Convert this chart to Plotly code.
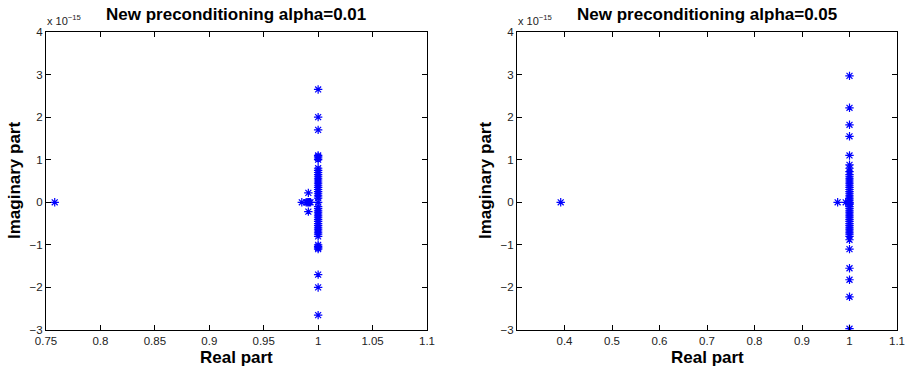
import plotly.graph_objects as go

SCALE = 1e-15

# Left panel: alpha = 0.01  (imaginary parts in units of 1e-15)
left_real = [0.758, 0.985, 0.989, 0.990, 0.991, 0.992, 0.993, 0.991, 0.991] + [1.0] * 45
left_imag = [0.0, 0.0, 0.0, 0.0, 0.0, 0.0, 0.0, 0.22, -0.22] + [
    2.65, 2.0, 1.7, 1.1, 1.07, 1.04, 1.0, 0.8, 0.75, 0.7, 0.65, 0.6, 0.55, 0.5,
    0.45, 0.4, 0.35, 0.3, 0.25, 0.2, 0.15, 0.1, 0.0, -0.1, -0.15, -0.2, -0.25,
    -0.3, -0.35, -0.4, -0.45, -0.5, -0.55, -0.6, -0.65, -0.7, -0.75, -0.8,
    -1.0, -1.04, -1.07, -1.1, -1.7, -2.0, -2.65]

# Right panel: alpha = 0.05
right_real = [0.392, 0.975, 0.992] + [1.0] * 45
right_imag = [0.0, 0.0, 0.0] + [
    2.97, 2.22, 1.82, 1.55, 1.1, 0.88, 0.8, 0.72, 0.65, 0.6, 0.55, 0.5, 0.45,
    0.4, 0.35, 0.3, 0.25, 0.2, 0.15, 0.1, 0.05, 0.0, -0.05, -0.1, -0.15, -0.2,
    -0.25, -0.3, -0.35, -0.4, -0.45, -0.5, -0.55, -0.6, -0.65, -0.7, -0.75,
    -0.8, -0.88, -1.1, -1.55, -1.82, -2.22, -2.97, -0.02]

y_ticks = [-3, -2, -1, 0, 1, 2, 3, 4]
y_ticktext = ["\u22123", "\u22122", "\u22121", "0", "1", "2", "3", "4"]
left_xticks = [0.75, 0.8, 0.85, 0.9, 0.95, 1.0, 1.05, 1.1]
left_xtext = ["0.75", "0.8", "0.85", "0.9", "0.95", "1", "1.05", "1.1"]
right_xticks = [0.4, 0.5, 0.6, 0.7, 0.8, 0.9, 1.0, 1.1]
right_xtext = ["0.4", "0.5", "0.6", "0.7", "0.8", "0.9", "1", "1.1"]

FONT = "Liberation Sans, Arial, Helvetica, sans-serif"
BLUE = "#0000ff"

marker = dict(symbol="asterisk-open", size=7, color=BLUE, line=dict(color=BLUE, width=1.2))

fig = go.Figure()
fig.add_trace(go.Scatter(x=left_real, y=[v * SCALE for v in left_imag], mode="markers",
                         marker=marker, xaxis="x", yaxis="y", showlegend=False))
fig.add_trace(go.Scatter(x=right_real, y=[v * SCALE for v in right_imag], mode="markers",
                         marker=marker, xaxis="x2", yaxis="y2", showlegend=False))

W, H = 907, 370
L1, R1 = 46, 427
L2, R2 = 517, 897
TOP, BOT = 32, 330

def px(x):
    return x / W

def py(y):
    return 1 - y / H

common_axis = dict(showgrid=False, zeroline=False, showline=True, linecolor="black",
                   linewidth=1, mirror="ticks", ticks="inside", ticklen=5, automargin=False,
                   tickcolor="black", tickfont=dict(family=FONT, size=11.5, color="#222"))

fig.update_layout(
    width=W, height=H, autosize=False,
    margin=dict(l=0, r=0, t=0, b=0, pad=0, autoexpand=False),
    paper_bgcolor="white", plot_bgcolor="white",
    xaxis=dict(domain=[px(L1), px(R1)], range=[0.75, 1.1], tickvals=left_xticks,
               ticktext=left_xtext, anchor="y", **common_axis),
    yaxis=dict(domain=[py(BOT), py(TOP)], range=[-3 * SCALE, 4 * SCALE],
               tickvals=[t * SCALE for t in y_ticks], ticktext=y_ticktext,
               anchor="x", **common_axis),
    xaxis2=dict(domain=[px(L2), px(R2)], range=[0.3, 1.1], tickvals=right_xticks,
                ticktext=right_xtext, anchor="y2", **common_axis),
    yaxis2=dict(domain=[py(BOT), py(TOP)], range=[-3 * SCALE, 4 * SCALE],
                tickvals=[t * SCALE for t in y_ticks], ticktext=y_ticktext,
                anchor="x2", **common_axis),
)

anns = []
for (l, r, title) in [(L1, R1, "New preconditioning alpha=0.01"),
                      (L2, R2, "New preconditioning alpha=0.05")]:
    cx = px((l + r) / 2)
    anns.append(dict(text="<b>" + title + "</b>", x=cx, y=py(14), xref="paper", yref="paper",
                     showarrow=False, xanchor="center", yanchor="middle",
                     font=dict(family=FONT, size=17, color="black")))
    anns.append(dict(text="<b>Real part</b>", x=cx, y=py(357), xref="paper", yref="paper",
                     showarrow=False, xanchor="center", yanchor="middle",
                     font=dict(family=FONT, size=17, color="black")))
    anns.append(dict(text="<b>Imaginary part</b>", x=px(l - 32), y=py((TOP + BOT) / 2),
                     xref="paper", yref="paper", showarrow=False, textangle=-90,
                     xanchor="center", yanchor="middle",
                     font=dict(family=FONT, size=17, color="black")))
    anns.append(dict(text="x 10<sup>\u221215</sup>", x=px(l - 1), y=py(29), xref="paper",
                     yref="paper", showarrow=False, xanchor="left", yanchor="bottom",
                     font=dict(family=FONT, size=11, color="#222")))
fig.update_layout(annotations=anns)

fig.write_html(
    "out.html",
    config={"responsive": False, "displayModeBar": False},
    post_script="document.body.style.margin='0';document.body.style.padding='0';"
                "document.body.style.overflow='hidden';",
)
